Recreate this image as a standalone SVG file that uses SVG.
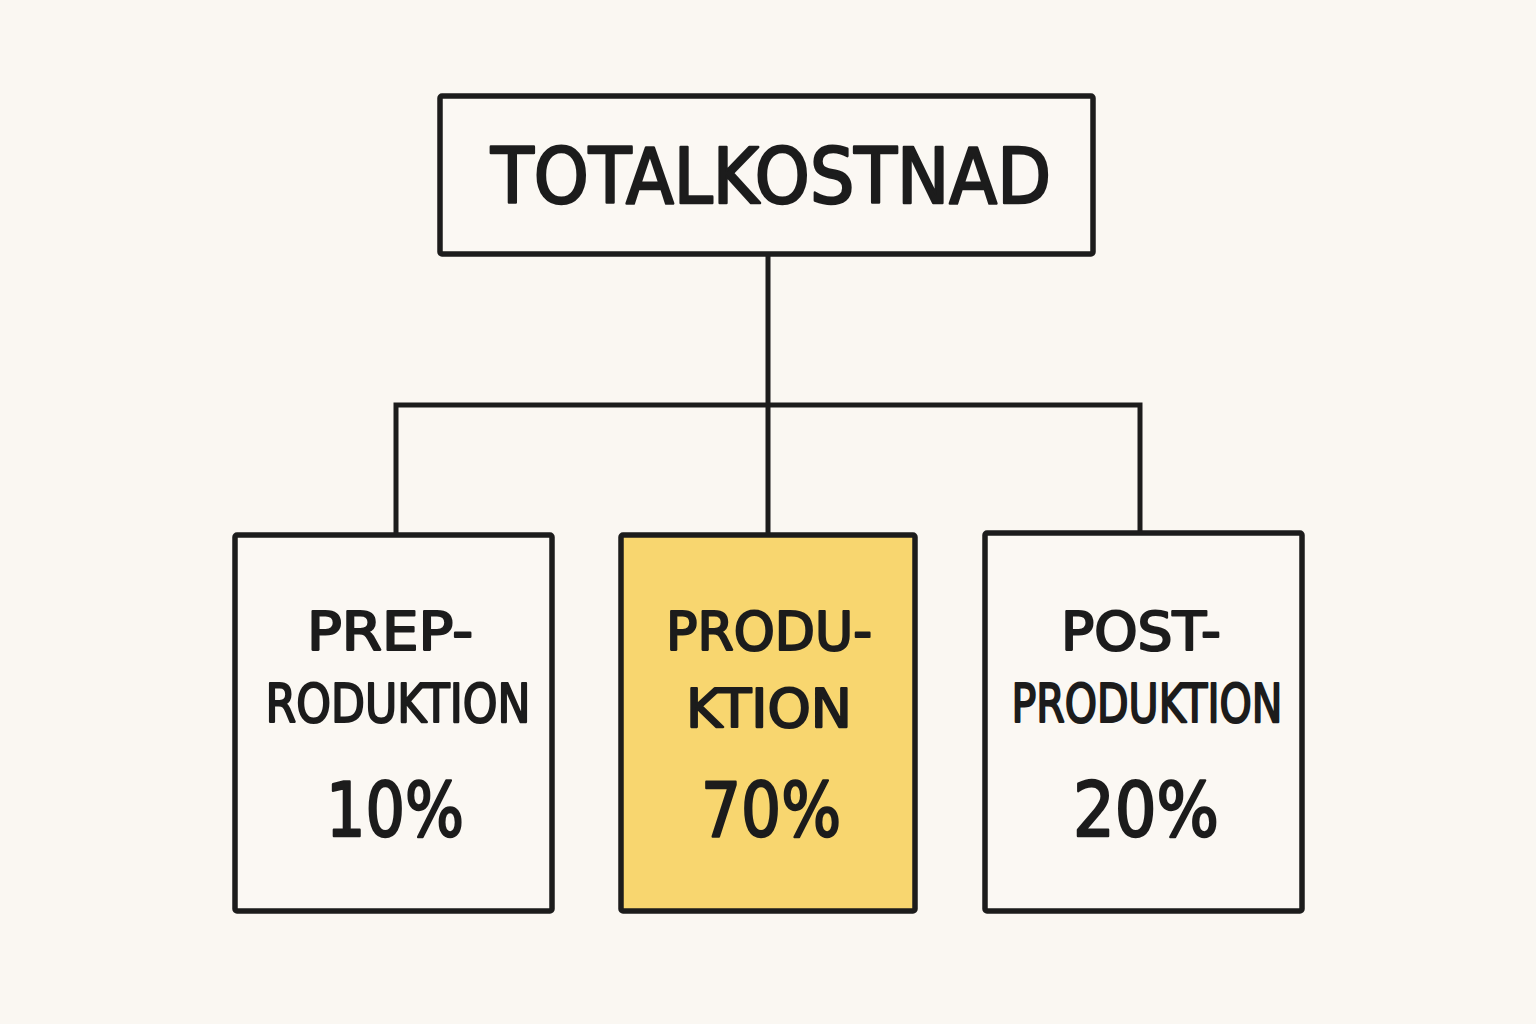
<svg xmlns="http://www.w3.org/2000/svg" width="1536" height="1024" viewBox="0 0 1536 1024">
<style>
.box{fill:#fbf8f3;stroke:#1c1c1c;stroke-width:5.5;stroke-linejoin:round}
.hl{fill:#f8d66f}
.conn{fill:none;stroke:#1c1c1c;stroke-width:5;stroke-linecap:square}
text{font-family:"DejaVu Sans","Liberation Sans",sans-serif;fill:#1c1c1c;stroke:#1c1c1c;stroke-linejoin:round;text-anchor:middle}
.t1{font-size:76px;stroke-width:2.6}
.lbl{font-size:54px;stroke-width:2.2}
.pct{font-size:74px;stroke-width:2.4}
</style>
<rect width="1536" height="1024" fill="#faf7f2"/>
<g id="connectors">
<path class="conn" d="M768 254 V405 M396 405 H1140 M396 405 V535 M768 405 V535 M1140 405 V533"/>
</g>
<g id="total">
<rect class="box" x="440" y="96" width="653" height="158" rx="2"/>
<text class="t1" x="771" y="203" textLength="560" lengthAdjust="spacingAndGlyphs">TOTALKOSTNAD</text>
</g>
<g id="preproduktion">
<rect class="box" x="235" y="535" width="317" height="376" rx="2"/>
<text class="lbl" x="390" y="650" textLength="166" lengthAdjust="spacingAndGlyphs">PREP-</text>
<text class="lbl" x="398" y="722" textLength="265" lengthAdjust="spacingAndGlyphs">RODUKTION</text>
<text class="pct" x="395" y="836" textLength="138" lengthAdjust="spacingAndGlyphs">10%</text>
</g>
<g id="produktion">
<rect class="box hl" x="621" y="535" width="294" height="376" rx="2"/>
<text class="lbl" x="769" y="650" textLength="206" lengthAdjust="spacingAndGlyphs">PRODU-</text>
<text class="lbl" x="769" y="727" textLength="166" lengthAdjust="spacingAndGlyphs">KTION</text>
<text class="pct" x="771" y="836" textLength="140" lengthAdjust="spacingAndGlyphs">70%</text>
</g>
<g id="postproduktion">
<rect class="box" x="985" y="533" width="317" height="378" rx="2"/>
<text class="lbl" x="1141" y="650" textLength="160" lengthAdjust="spacingAndGlyphs">POST-</text>
<text class="lbl" x="1147" y="722" textLength="271" lengthAdjust="spacingAndGlyphs">PRODUKTION</text>
<text class="pct" x="1146" y="836" textLength="146" lengthAdjust="spacingAndGlyphs">20%</text>
</g>
</svg>
